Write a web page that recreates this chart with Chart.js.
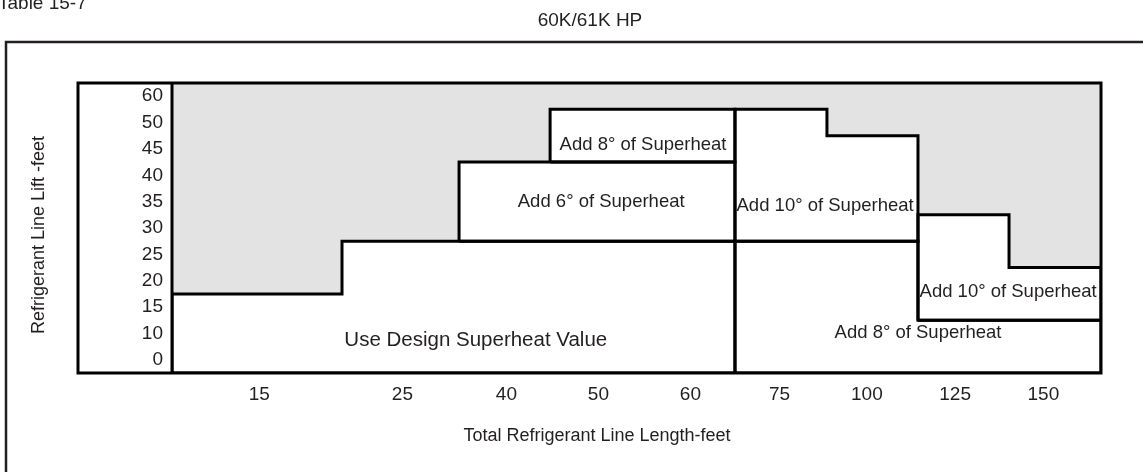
<!DOCTYPE html>
<html>
<head>
<meta charset="utf-8">
<title>60K/61K HP superheat table</title>
<script src="https://cdn.jsdelivr.net/npm/chart.js@4/dist/chart.umd.min.js"></script>
<style>
  html, body { margin: 0; padding: 0; background: #fff; }
  canvas { display: block; }
</style>
</head>
<body>
<canvas id="superheatChart" width="1143" height="472"></canvas>
<script>
// Axis labels (the table's rows and columns)
const lengthLabels = ['15', '25', '40', '50', '60', '75', '100', '125', '150'];
const lengthTickAt = [0.94, 2.48, 3.6, 4.59, 5.58, 6.54, 7.48, 8.43, 9.38];
const liftLabels = ['0', '10', '15', '20', '25', '30', '35', '40', '45', '50', '60'];

// Upper limit of the white zones (lift slot) for each length span
const limitX = [0, 1.83, 3.09, 4.07, 7.05, 8.03, 9.01, 10];
const limitLift = [3, 5, 8, 10, 9, 6, 4];

// Superheat zones as outlines in (length, lift) units
const zoneDesign = [[0, 0], [0, 3], [1.83, 3], [1.83, 5], [6.06, 5], [6.06, 0], [0, 0]];
const zoneAdd6 = [[3.09, 5], [3.09, 8], [6.06, 8], [6.06, 5], [3.09, 5]];
const zoneAdd8Top = [[4.07, 8], [4.07, 10], [6.06, 10], [6.06, 8], [4.07, 8]];
const zoneAdd10Mid = [[6.06, 5], [6.06, 10], [7.05, 10], [7.05, 9], [8.03, 9], [8.03, 5], [6.06, 5]];
const zoneAdd10Right = [[8.03, 2], [8.03, 6], [9.01, 6], [9.01, 4], [10, 4], [10, 2], [8.03, 2]];
const zoneAdd8Low = [[6.06, 0], [6.06, 5], [8.03, 5], [8.03, 2], [10, 2], [10, 0], [6.06, 0]];

const zoneText = [
  'Use Design Superheat Value',
  'Add 6\u00b0 of Superheat',
  'Add 8\u00b0 of Superheat',
  'Add 10\u00b0 of Superheat',
  'Add 10\u00b0 of Superheat',
  'Add 8\u00b0 of Superheat'
];
const zoneTextAt = [[3.27, 1.25], [4.62, 6.48], [5.07, 8.64], [7.03, 6.33], [9.0, 3.07], [8.03, 1.52]];

const FONT = '"Liberation Sans", Arial, sans-serif';
const INK = '#231f20';

const toPoints = arr => arr.map(p => ({ x: p[0], y: p[1] }));

// staircase along the top of the white zones
function limitPoints() {
  const pts = [];
  limitLift.forEach((lift, i) => {
    pts.push({ x: limitX[i], y: lift });
    pts.push({ x: limitX[i + 1], y: lift });
  });
  return pts;
}

function zoneDataset(points) {
  return {
    data: toPoints(points),
    showLine: true,
    borderColor: '#000',
    borderWidth: 3,
    borderJoinStyle: 'miter',
    pointRadius: 0,
    fill: false,
    order: 1
  };
}

// Frame, inner box and free text
const tablePlugin = {
  id: 'tableDecor',
  beforeDatasetsDraw(chart) {
    const ctx = chart.ctx;
    ctx.save();
    // outer frame
    ctx.strokeStyle = INK;
    ctx.lineWidth = 2.5;
    ctx.beginPath();
    ctx.moveTo(6, chart.height + 2);
    ctx.lineTo(6, 42);
    ctx.lineTo(chart.width + 2, 42);
    ctx.stroke();
    ctx.restore();
  },
  afterDatasetsDraw(chart) {
    const ctx = chart.ctx;
    const area = chart.chartArea;
    const xs = chart.scales.x;
    const ys = chart.scales.y;
    ctx.save();
    // inner box and label column divider
    ctx.strokeStyle = '#000';
    ctx.lineWidth = 3;
    ctx.strokeRect(ys.left, area.top, area.right - ys.left, area.bottom - area.top);
    ctx.beginPath();
    ctx.moveTo(area.left, area.top);
    ctx.lineTo(area.left, area.bottom);
    ctx.stroke();

    // zone captions
    ctx.fillStyle = INK;
    ctx.textAlign = 'center';
    ctx.textBaseline = 'middle';
    zoneText.forEach((t, i) => {
      ctx.font = (i === 0 ? '20.5px ' : '18.5px ') + FONT;
      ctx.fillText(t, xs.getPixelForValue(zoneTextAt[i][0]), ys.getPixelForValue(zoneTextAt[i][1]));
    });

    // headings and axis titles
    ctx.font = '19px ' + FONT;
    ctx.textAlign = 'left';
    ctx.textBaseline = 'alphabetic';
    ctx.fillText('Table 15-7', -2, 9);
    ctx.textAlign = 'center';
    ctx.fillText('60K/61K HP', 590, 26);
    ctx.font = '18px ' + FONT;
    ctx.textBaseline = 'middle';
    ctx.fillText('Total Refrigerant Line Length-feet', 597, 436);
    ctx.translate(39, 235);
    ctx.rotate(-Math.PI / 2);
    ctx.fillText('Refrigerant Line Lift -feet', 0, 0);
    ctx.restore();
  }
};

const ctx = document.getElementById('superheatChart').getContext('2d');

const superheatChart = new Chart(ctx, {
  type: 'scatter',
  data: {
    datasets: [
      {
        // shaded area above the allowed lift
        data: limitPoints(),
        showLine: true,
        borderWidth: 0,
        borderColor: 'rgba(0,0,0,0)',
        backgroundColor: '#e3e3e3',
        pointRadius: 0,
        fill: 'end',
        order: 2
      },
      zoneDataset(zoneDesign),
      zoneDataset(zoneAdd6),
      zoneDataset(zoneAdd8Top),
      zoneDataset(zoneAdd10Mid),
      zoneDataset(zoneAdd10Right),
      zoneDataset(zoneAdd8Low)
    ]
  },
  options: {
    responsive: false,
    animation: false,
    layout: {
      padding: { left: 78, top: 83, right: 42, bottom: 0 }
    },
    plugins: {
      legend: { display: false },
      tooltip: { enabled: false }
    },
    scales: {
      x: {
        type: 'linear',
        min: 0,
        max: 10,
        afterBuildTicks: scale => {
          scale.ticks = lengthTickAt.map(v => ({ value: v }));
        },
        afterFit: scale => { scale.height = 99; },
        ticks: {
          autoSkip: false,
          maxRotation: 0,
          padding: 10,
          color: INK,
          font: { family: FONT, size: 19 },
          callback: (value, index) => lengthLabels[index]
        },
        grid: { display: false, drawTicks: false },
        border: { display: false }
      },
      y: {
        type: 'linear',
        min: 0,
        max: 11,
        afterBuildTicks: scale => {
          scale.ticks = liftLabels.map((l, i) => ({ value: i + 0.5 }));
        },
        afterFit: scale => { scale.width = 94; },
        ticks: {
          autoSkip: false,
          padding: 9,
          color: INK,
          font: { family: FONT, size: 19 },
          callback: (value, index) => liftLabels[index]
        },
        grid: { display: false, drawTicks: false },
        border: { display: false }
      }
    }
  },
  plugins: [tablePlugin]
});
</script>
</body>
</html>
